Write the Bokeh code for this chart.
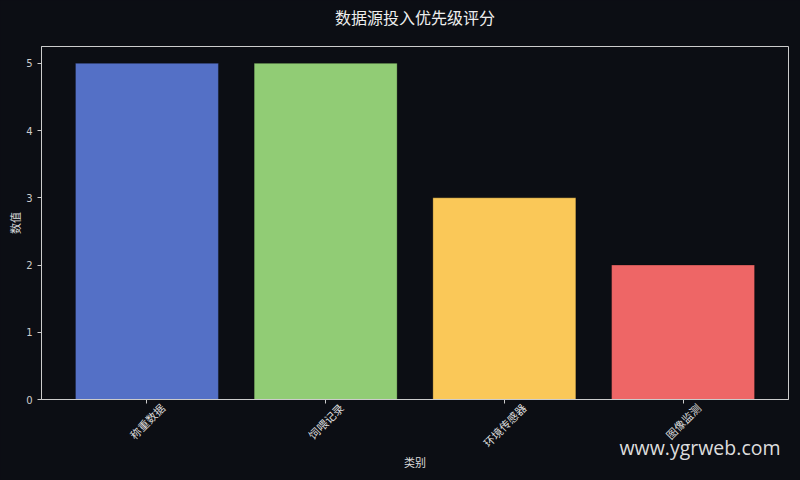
import math
from bokeh.plotting import figure
from bokeh.models import ColumnDataSource, Range1d, FixedTicker, LinearAxis, Title
from bokeh.embed import file_html
from bokeh.resources import INLINE

# ---- data ----
categories = ["称重数据", "饲喂记录", "环境传感器", "图像监测"]
scores = [5, 5, 3, 2]
bar_colors = ["#5470c6", "#91cc75", "#fac858", "#ee6666"]
y_ticks = [0, 1, 2, 3, 4, 5]
title_text = "数据源投入优先级评分"
x_label = "类别"
y_label = "数值"
watermark = "www.ygrweb.com"

BG = "#0c0e14"
CJK = "Noto Sans CJK SC"
LABEL_PX = 11

idx = list(range(len(categories)))
src = ColumnDataSource(dict(x=idx, top=scores, color=bar_colors))

p = figure(width=800, height=480, output_backend="svg", toolbar_location=None,
           title_location=None,
           x_range=Range1d(-0.59, 3.59), y_range=Range1d(0, 5.25),
           min_border_left=41, min_border_right=12, min_border_top=46, min_border_bottom=81)
p.background_fill_color = BG
p.border_fill_color = BG
p.outline_line_color = "#cccccc"
p.outline_line_width = 1
p.grid.visible = False

p.vbar(x="x", top="top", bottom=0, width=0.8, fill_color="color", source=src,
       line_color="#000000", line_alpha=0.35, line_width=0.8)

def style_axis(ax):
    ax.axis_line_color = "#cccccc"
    ax.major_tick_line_color = "#cccccc"
    ax.major_tick_out = 4
    ax.major_tick_in = 0
    ax.minor_tick_line_color = None
    ax.major_label_text_color = "#cccccc"
    ax.major_label_text_font = "DejaVu Sans"
    ax.major_label_text_font_size = "10px"
    ax.axis_label_text_color = "#dddddd"
    ax.axis_label_text_font = CJK
    ax.axis_label_text_font_size = "11px"
    ax.axis_label_text_font_style = "normal"

# original axes (captured before any extra axis is added)
xa = p.below[0]
ya = p.left[0]

# y axis
style_axis(ya)
ya.ticker = FixedTicker(ticks=y_ticks)
ya.major_label_standoff = 5
ya.axis_label = y_label
ya.axis_label_standoff = 0

# x axis: tick marks only
style_axis(xa)
xa.ticker = FixedTicker(ticks=idx)
xa.major_label_overrides = {i: "" for i in idx}
xa.major_label_standoff = 0
xa.major_label_text_font_size = "0px"

# second x axis: rotated category labels, shifted so each label is centred on its tick
px_per_unit = 747 / 4.18
shifted = [round(i + (len(c) * LABEL_PX / 2) * math.cos(math.pi / 4) / px_per_unit, 4)
           for i, c in zip(idx, categories)]
xa2 = LinearAxis(ticker=FixedTicker(ticks=shifted),
                 major_label_overrides={s: c for s, c in zip(shifted, categories)},
                 major_label_orientation=math.pi / 4)
style_axis(xa2)
xa2.axis_line_color = None
xa2.major_tick_line_color = None
xa2.major_tick_out = 0
xa2.major_label_standoff = 2
xa2.major_label_text_font = CJK
xa2.major_label_text_font_size = f"{LABEL_PX}px"
xa2.major_label_text_color = "#dddddd"
xa2.axis_label = x_label
xa2.axis_label_standoff = -5
p.add_layout(xa2, "below")

# title, drawn as the label of a bare axis above the frame
ta = LinearAxis(ticker=FixedTicker(ticks=[]), axis_label=title_text)
style_axis(ta)
ta.axis_line_color = None
ta.major_tick_line_color = None
ta.major_tick_out = 0
ta.major_label_standoff = 0
ta.major_label_text_font_size = "0px"
ta.axis_label_text_font_size = "16px"
ta.axis_label_text_color = "#eeeeee"
ta.axis_label_standoff = 18
p.add_layout(ta, "above")

# watermark
p.add_layout(Title(text=watermark, align="right", vertical_align="top",
                   text_font="Open Sans", text_font_size="19.5px", text_font_style="normal",
                   text_color="#dddddd", standoff=-78, offset=8), "below")

TEMPLATE = "{% block postamble %}<style>html, body { background: " + BG + "; }</style>{% endblock %}"
open("out.html", "w").write(file_html(p, INLINE, template=TEMPLATE))
